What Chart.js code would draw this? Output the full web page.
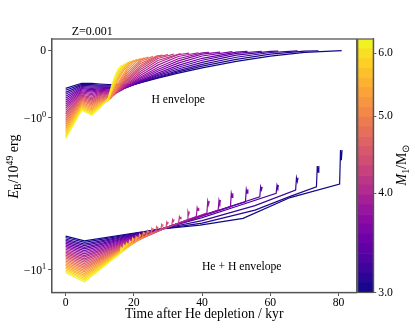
<!DOCTYPE html>
<html>
<head>
<meta charset="utf-8">
<script src="https://cdn.jsdelivr.net/npm/chart.js@4.4.1/dist/chart.umd.min.js"></script>
<style>
  html, body { margin: 0; padding: 0; background: #fff; }
  #wrap { position: relative; width: 415px; height: 329px; }
  #main { position: absolute; left: 0; top: 0; }
  #cbar { position: absolute; left: 352px; top: 0; }
</style>
</head>
<body>
<div id="wrap">
  <canvas id="main" width="415" height="329"></canvas>
  <canvas id="cbar" width="63" height="329"></canvas>
</div>
<script>
// primary masses of the tracks (blue -> yellow), Msun
const masses = [3.000, 3.089, 3.180, 3.273, 3.370, 3.469, 3.572, 3.677, 3.786, 3.897, 4.012, 4.131, 4.252,
                4.378, 4.507, 4.640, 4.777, 4.918, 5.063, 5.212, 5.366, 5.524, 5.687, 5.855, 6.028, 6.205];

// binding energy of the H envelope, [time / kyr, E_B / 1e49 erg], one track per mass
const hEnvelope = [
  [[0,-.564],[4.7,-.490],[7.6,-.490],[10,-.500],[12.5,-.508],[20,-.508],[22,-.480],[27,-.414],[33,-.341],[40,-.263],[50,-.167],[60,-.090],[70,-.036],[80.9,-.009]],
  [[0,-.593],[4.7,-.506],[7.6,-.509],[10,-.515],[12.5,-.518],[19.4,-.518],[22,-.478],[27,-.404],[33,-.323],[40,-.238],[50,-.137],[60,-.062],[70,-.017],[74.1,-.011]],
  [[0,-.623],[4.7,-.522],[7.6,-.528],[10,-.529],[12.5,-.530],[18.9,-.530],[22,-.476],[27,-.393],[33,-.304],[40,-.212],[50,-.107],[60,-.037],[68,-.013]],
  [[0,-.652],[4.7,-.537],[7.6,-.546],[10,-.543],[12.5,-.542],[18.3,-.542],[22,-.469],[27,-.377],[33,-.279],[40,-.181],[50,-.076],[60,-.019],[62.3,-.016]],
  [[0,-.681],[4.7,-.553],[7.6,-.565],[10,-.557],[12.5,-.553],[17.8,-.553],[22,-.461],[27,-.360],[33,-.254],[40,-.151],[50,-.050],[57.5,-.018]],
  [[0,-.711],[4.7,-.569],[7.6,-.584],[10,-.571],[12.5,-.565],[17.3,-.565],[22,-.450],[27,-.340],[33,-.227],[40,-.122],[50,-.031],[53.3,-.021]],
  [[0,-.740],[4.7,-.585],[7.6,-.602],[10,-.585],[12.5,-.577],[16.8,-.577],[18,-.542],[22,-.434],[27,-.313],[33,-.193],[40,-.088],[48.9,-.025]],
  [[0,-.770],[4.7,-.600],[7.6,-.621],[10,-.599],[12.5,-.589],[16.4,-.589],[18,-.537],[22,-.417],[27,-.287],[33,-.160],[40,-.061],[45.3,-.030]],
  [[0,-.799],[4.7,-.616],[7.6,-.640],[10,-.613],[12.5,-.601],[16,-.601],[18,-.529],[22,-.397],[27,-.257],[33,-.128],[40,-.042],[42,-.034]],
  [[0,-.829],[4.7,-.632],[7.6,-.658],[10,-.628],[12.5,-.612],[15.6,-.612],[18,-.516],[22,-.372],[27,-.223],[33,-.096],[38.9,-.040]],
  [[0,-.858],[4.7,-.648],[7.6,-.677],[10,-.642],[12.5,-.624],[15.2,-.624],[18,-.499],[22,-.343],[27,-.188],[33,-.070],[36.2,-.046]],
  [[0,-.888],[4.7,-.663],[7.6,-.696],[10,-.656],[12.5,-.636],[14.9,-.636],[18,-.480],[22,-.312],[27,-.154],[33.7,-.054]],
  [[0,-.917],[4.7,-.679],[7.6,-.714],[10,-.670],[12.5,-.648],[14.5,-.648],[15,-.619],[18,-.459],[22,-.282],[27,-.125],[31.7,-.060]],
  [[0,-.946],[4.7,-.695],[7.6,-.733],[10,-.684],[12.5,-.659],[14.2,-.659],[15,-.609],[18,-.438],[22,-.254],[27,-.103],[30,-.068]],
  [[0,-.976],[4.7,-.711],[7.6,-.752],[10,-.698],[12.5,-.671],[14,-.671],[15,-.600],[18,-.417],[22,-.226],[27,-.087],[28.5,-.075]],
  [[0,-1.006],[4.7,-.726],[7.6,-.771],[10,-.712],[12.5,-.683],[13.7,-.683],[15,-.587],[18,-.392],[22,-.197],[27,-.083]],
  [[0,-1.037],[4.7,-.742],[7.6,-.789],[10,-.727],[12.5,-.695],[13.5,-.695],[15,-.573],[18,-.366],[22,-.170],[25.6,-.093]],
  [[0,-1.069],[4.7,-.758],[7.6,-.808],[10,-.741],[12.5,-.707],[13.3,-.707],[15,-.557],[18,-.337],[22,-.145],[24.3,-.103]],
  [[0,-1.102],[4.7,-.774],[7.6,-.827],[10,-.755],[12.5,-.718],[13.1,-.718],[15,-.536],[18,-.306],[21,-.157],[23.1,-.114]],
  [[0,-1.136],[4.7,-.789],[7.6,-.845],[10,-.769],[12.5,-.727],[15,-.511],[18,-.274],[20,-.171],[22,-.126]],
  [[0,-1.171],[4.7,-.805],[7.6,-.864],[10,-.783],[12.5,-.736],[15,-.469],[17,-.304],[19,-.189],[21,-.138]],
  [[0,-1.207],[4.7,-.821],[7.6,-.883],[10,-.797],[12.5,-.740],[14,-.555],[16,-.354],[18,-.214],[20,-.152]],
  [[0,-1.244],[4.7,-.837],[7.6,-.901],[10,-.811],[12.5,-.740],[14,-.537],[16,-.325],[18,-.194],[19.1,-.167]],
  [[0,-1.282],[4.7,-.852],[7.6,-.920],[10,-.825],[12.5,-.736],[14,-.512],[16,-.293],[18.2,-.184]],
  [[0,-1.321],[4.7,-.868],[7.6,-.939],[10,-.840],[12.5,-.726],[14,-.483],[15.5,-.306],[17.4,-.201]],
  [[0,-1.362],[4.7,-.884],[7.6,-.957],[10,-.854],[12.5,-.707],[13.5,-.523],[14.5,-.377],[15.5,-.273],[16.6,-.221]]
];

// binding energy of He + H envelope, same tracks
const heEnvelope = [
  [[0,-5.984],[5.5,-6.426],[27.3,-5.397],[39.4,-5.064],[52,-4.577],[65.8,-3.340],[80.3,-2.722],[80.55,-1.626],[80.8,-1.898],[81.0,-1.626]],
  [[0,-6.118],[5.5,-6.588],[27.3,-5.408],[40,-4.913],[55.5,-4.036],[66,-3.265],[73.5,-2.836],[73.75,-2.072],[74.0,-2.276],[74.2,-2.072]],
  [[0,-6.256],[5.5,-6.753],[27.3,-5.418],[40,-4.732],[55.5,-3.770],[67.4,-2.981],[67.65,-2.474],[67.9,-2.617],[68.1,-2.474]],
  [[0,-6.394],[5.5,-6.921],[27.3,-5.428],[40,-4.522],[50,-3.827],[61.7,-3.134],[61.95,-2.764],[62.2,-2.870],[62.4,-2.764]],
  [[0,-6.538],[5.5,-7.095],[27.3,-5.438],[56.9,-3.299],[57.15,-2.836],[57.4,-2.968],[57.6,-2.836]],
  [[0,-6.686],[5.5,-7.273],[27.3,-5.448],[52.7,-3.558],[52.95,-2.950],[53.2,-3.120],[53.4,-2.950]],
  [[0,-6.835],[5.5,-7.456],[27.3,-5.458],[48.3,-3.839],[48.55,-3.134],[48.8,-3.330],[49.0,-3.134]],
  [[0,-6.990],[5.5,-7.643],[27.3,-5.468],[44.7,-4.036],[44.95,-3.468],[45.2,-3.629],[45.4,-3.468]],
  [[0,-7.146],[5.5,-7.836],[27.3,-5.478],[41.4,-4.224],[41.65,-3.521],[41.9,-3.718],[42.1,-3.521]],
  [[0,-7.307],[5.5,-8.035],[27.3,-5.487],[38.3,-4.453],[38.55,-3.897],[38.8,-4.055],[39.0,-3.897]],
  [[0,-7.472],[5.5,-8.237],[27.3,-5.497],[35.6,-4.695],[35.85,-4.129],[36.1,-4.296],[36.3,-4.129]],
  [[0,-7.640],[5.5,-8.444],[27.3,-5.508],[33.1,-4.913],[33.35,-4.467],[33.6,-4.598],[33.8,-4.467]],
  [[0,-7.812],[5.5,-8.656],[27.3,-5.518],[31.1,-5.103],[31.35,-4.660],[31.6,-4.789],[31.8,-4.660]],
  [[0,-7.987],[5.5,-8.874],[27.3,-5.528],[29.4,-5.260],[29.65,-4.840],[29.9,-4.966],[30.1,-4.840]],
  [[0,-8.168],[5.5,-9.097],[27.3,-5.538],[27.9,-5.423],[28.15,-5.026],[28.4,-5.142],[28.6,-5.026]],
  [[0,-8.350],[5.5,-9.326],[26.4,-5.590],[26.65,-5.196],[26.9,-5.309],[27.1,-5.196]],
  [[0,-8.539],[5.5,-9.561],[25.0,-5.762],[25.25,-5.323],[25.5,-5.456],[25.7,-5.323]],
  [[0,-8.732],[5.5,-9.802],[23.7,-5.957],[23.95,-5.521],[24.2,-5.649],[24.4,-5.521]],
  [[0,-8.927],[5.5,-10.05],[22.5,-6.141],[22.75,-5.656],[23.0,-5.797],[23.2,-5.656]],
  [[0,-9.129],[5.5,-10.30],[21.4,-6.358],[21.65,-5.832],[21.9,-5.984],[22.1,-5.832]],
  [[0,-9.335],[5.5,-10.56],[20.4,-6.583],[20.65,-6.048],[20.9,-6.206],[21.1,-6.048]],
  [[0,-9.546],[5.5,-10.83],[19.4,-6.785],[19.65,-6.196],[19.9,-6.367],[20.1,-6.196]],
  [[0,-9.761],[5.5,-11.10],[18.5,-7.036],[18.75,-6.455],[19.0,-6.623],[19.2,-6.455]],
  [[0,-9.979],[5.5,-11.38],[17.6,-7.285],[17.85,-6.683],[18.1,-6.857],[18.3,-6.683]],
  [[0,-10.20],[5.5,-11.67],[16.8,-7.509],[17.05,-6.857],[17.3,-7.047],[17.5,-6.857]],
  [[0,-10.43],[5.5,-11.96],[16.0,-7.775],[16.25,-7.143],[16.5,-7.330],[16.7,-7.143]]
];

const xTicks = [0, 20, 40, 60, 80];
const yTicks = [0, -1, -10];
// y tick labels as [base, exponent]
const yTickLabels = [['0', ''], ['\u221210', '0'], ['\u221210', '1']];
const cbarTicks = [3, 4, 5, 6];
const cbarEdges = [3.000, 3.086, 3.174, 3.265, 3.359, 3.455, 3.554, 3.656, 3.760, 3.868, 3.979, 4.093, 4.210,
                   4.330, 4.455, 4.582, 4.713, 4.848, 4.987, 5.129, 5.277, 5.428, 5.583, 5.743, 5.908, 6.077, 6.250];
const notes = [
  { text: 'H envelope', x: 33.0, y: -0.736 },
  { text: 'He + H envelope', x: 51.6, y: -9.53 }
];

const SERIF = '"Liberation Serif", "Times New Roman", serif';
const AXIS = '#555555';
const TICK_SIZE = 11.7;

// plasma colormap
const plasmaStops = ['#0d0887', '#41049d', '#6a00a8', '#8f0da4', '#b12a90', '#cc4778',
                     '#e16462', '#f2844b', '#fca636', '#fcce25', '#f0f921'];
function hexRgb(h) { return [1, 3, 5].map(k => parseInt(h.slice(k, k + 2), 16)); }
function plasma(f) {
    f = Math.min(1, Math.max(0, f));
    const p = f * (plasmaStops.length - 1);
    const k = Math.min(Math.floor(p), plasmaStops.length - 2);
    const a = hexRgb(plasmaStops[k]), b = hexRgb(plasmaStops[k + 1]);
    const u = p - k;
    return 'rgb(' + a.map((c, j) => Math.round(c + (b[j] - c) * u)).join(',') + ')';
}
const logMin = Math.log(cbarEdges[0]), logMax = Math.log(cbarEdges[cbarEdges.length - 1]);
const massColor = m => plasma((Math.log(m) - logMin) / (logMax - logMin));

// symmetric log axis (linear inside |v| < 1)
const LINSCALE = 0.447;
function symT(v) {
    const a = Math.abs(v);
    return Math.sign(v) * (a <= 1 ? LINSCALE * a : LINSCALE + Math.log10(a));
}
function symInv(t) {
    const a = Math.abs(t);
    return Math.sign(t) * (a <= LINSCALE ? a / LINSCALE : Math.pow(10, a - LINSCALE));
}
class SymlogScale extends Chart.LinearScale {
    configure() {
        super.configure();
        this._t0 = symT(this.min);
        this._t1 = symT(this.max);
    }
    getPixelForValue(value) {
        return this.getPixelForDecimal((symT(value) - this._t0) / (this._t1 - this._t0));
    }
    getValueForPixel(pixel) {
        return symInv(this._t0 + this.getDecimalForPixel(pixel) * (this._t1 - this._t0));
    }
}
SymlogScale.id = 'symlog';
SymlogScale.defaults = {};
Chart.register(SymlogScale);

// text made of runs (for sub/superscripts); align 'center' or 'right'
function drawRuns(ctx, runs, x0, cy, size, rotate, align) {
    ctx.save();
    ctx.translate(x0, cy);
    if (rotate) ctx.rotate(-Math.PI / 2);
    let total = 0;
    runs.forEach(r => { ctx.font = r.font; r.w = ctx.measureText(r.text).width; total += r.w; });
    let x = align === 'right' ? -total : -total / 2;
    ctx.fillStyle = '#000';
    ctx.textAlign = 'left';
    ctx.textBaseline = 'alphabetic';
    runs.forEach(r => { ctx.font = r.font; ctx.fillText(r.text, x, size * 0.35 + r.dy); x += r.w; });
    ctx.restore();
}

const datasets = [];
[hEnvelope, heEnvelope].forEach(group => {
    group.forEach((track, i) => {
        datasets.push({
            data: track.map(p => ({ x: p[0], y: p[1] })),
            borderColor: massColor(masses[i]),
            borderWidth: 1.2,
            pointRadius: 0,
            tension: 0,
            fill: false,
            order: masses.length - i
        });
    });
});

const mainText = {
    id: 'mainText',
    afterDraw(chart) {
        const { ctx, chartArea: a, scales } = chart;
        ctx.save();
        ctx.strokeStyle = AXIS;
        ctx.lineWidth = 1.3;
        ctx.strokeRect(a.left, a.top, a.right - a.left, a.bottom - a.top);

        ctx.fillStyle = '#000';
        ctx.font = '11.7px ' + SERIF;
        ctx.textAlign = 'center';
        ctx.textBaseline = 'middle';
        notes.forEach(n => {
            ctx.fillText(n.text, scales.x.getPixelForValue(n.x), scales.y.getPixelForValue(n.y));
        });
        ctx.font = '12px ' + SERIF;
        ctx.textAlign = 'left';
        ctx.fillText('Z=0.001', a.left + 20, a.top - 7);
        ctx.restore();

        // y tick labels with superscript exponents
        yTicks.forEach((v, k) => {
            const [base, exp] = yTickLabels[k];
            const runs = [{ text: base, font: TICK_SIZE + 'px ' + SERIF, dy: 0 }];
            if (exp) runs.push({ text: exp, font: (TICK_SIZE * 0.7) + 'px ' + SERIF, dy: -TICK_SIZE * 0.4 });
            drawRuns(ctx, runs, a.left - 5.5, scales.y.getPixelForValue(v), TICK_SIZE, false, 'right');
        });

        const s = 14;
        drawRuns(ctx, [
            { text: 'E', font: 'italic ' + s + 'px ' + SERIF, dy: 0 },
            { text: 'B', font: (s * 0.7) + 'px ' + SERIF, dy: s * 0.22 },
            { text: '/10', font: s + 'px ' + SERIF, dy: 0 },
            { text: '49', font: (s * 0.7) + 'px ' + SERIF, dy: -s * 0.38 },
            { text: ' erg', font: s + 'px ' + SERIF, dy: 0 }
        ], 13, 166.5, s, true, 'center');
    }
};

new Chart(document.getElementById('main'), {
    type: 'line',
    data: { datasets },
    options: {
        responsive: false,
        animation: false,
        devicePixelRatio: 1,
        layout: { padding: { left: 0, top: 39, right: 58.3, bottom: 0 } },
        plugins: { legend: { display: false }, tooltip: { enabled: false } },
        scales: {
            x: {
                type: 'linear',
                min: -4.08,
                max: 85.3,
                afterBuildTicks: s => { s.ticks = xTicks.map(v => ({ value: v })); },
                afterFit: s => { s.height = 36.5; },
                ticks: { color: '#000', font: { family: SERIF, size: TICK_SIZE }, padding: 0, maxRotation: 0, autoSkip: false },
                grid: { drawOnChartArea: false, tickLength: 3.5, color: AXIS },
                border: { color: AXIS, width: 1.3 },
                title: {
                    display: true,
                    text: 'Time after He depletion / kyr',
                    color: '#000',
                    font: { family: SERIF, size: 13.6 },
                    padding: { top: 0, bottom: 6.8 }
                }
            },
            y: {
                type: 'symlog',
                min: -14.07,
                max: 0.162,
                afterBuildTicks: s => { s.ticks = yTicks.map(v => ({ value: v })); },
                afterFit: s => { s.width = 51.7; },
                ticks: { autoSkip: false, callback: () => '' },
                grid: { drawOnChartArea: false, tickLength: 3.5, color: AXIS },
                border: { color: AXIS, width: 1.3 }
            }
        }
    },
    plugins: [mainText]
});

// colour bar
const cbarText = {
    id: 'cbarText',
    afterDraw(chart) {
        const { ctx, chartArea: a } = chart;
        ctx.save();
        ctx.strokeStyle = AXIS;
        ctx.lineWidth = 1.2;
        ctx.strokeRect(a.left, a.top, a.right - a.left, a.bottom - a.top);
        ctx.restore();
        const s = 14;
        drawRuns(ctx, [
            { text: 'M', font: 'italic ' + s + 'px ' + SERIF, dy: 0 },
            { text: '1', font: (s * 0.7) + 'px ' + SERIF, dy: s * 0.22 },
            { text: '/M', font: s + 'px ' + SERIF, dy: 0 },
            { text: '\u2299', font: (s * 0.7) + 'px ' + SERIF, dy: s * 0.22 }
        ], 49, 165, s, true, 'center');
    }
};

new Chart(document.getElementById('cbar'), {
    type: 'bar',
    data: {
        labels: [''],
        datasets: cbarEdges.slice(0, -1).map((lo, k) => ({
            data: [[lo, cbarEdges[k + 1]]],
            backgroundColor: plasma((k + 0.5) / (cbarEdges.length - 1)),
            borderWidth: 0,
            barPercentage: 1,
            categoryPercentage: 1,
            grouped: false
        }))
    },
    options: {
        responsive: false,
        animation: false,
        devicePixelRatio: 1,
        layout: { padding: { left: 5.7, top: 39, right: 0, bottom: 36.5 } },
        plugins: { legend: { display: false }, tooltip: { enabled: false } },
        scales: {
            x: { display: false },
            y: {
                type: 'logarithmic',
                position: 'right',
                min: 3.0,
                max: 6.25,
                bounds: 'data',
                afterBuildTicks: s => { s.ticks = cbarTicks.map(v => ({ value: v })); },
                afterFit: s => { s.width = 41.7; },
                ticks: {
                    color: '#000',
                    font: { family: SERIF, size: TICK_SIZE },
                    padding: 2,
                    autoSkip: false,
                    callback: v => Number(v).toFixed(1)
                },
                grid: { drawOnChartArea: false, tickLength: 3, color: AXIS },
                border: { color: AXIS, width: 1.2 }
            }
        }
    },
    plugins: [cbarText]
});
</script>
</body>
</html>
